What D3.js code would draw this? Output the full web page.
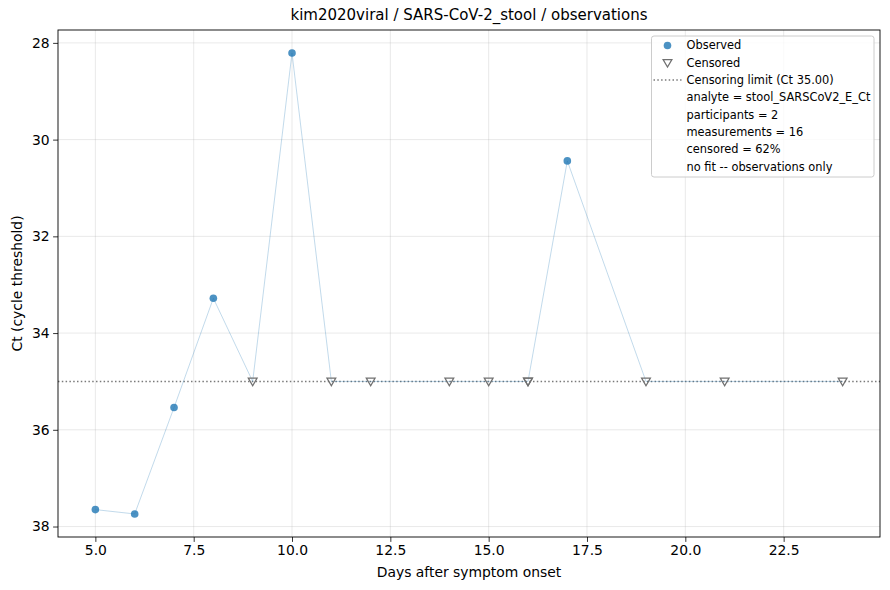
<!DOCTYPE html>
<html>
<head>
<meta charset="utf-8">
<script src="https://cdn.jsdelivr.net/npm/d3@7"></script>
<style>
  body { margin: 0; background: #fff; }
  text { font-family: "DejaVu Sans", sans-serif; }
</style>
</head>
<body>
<div id="chart"></div>
<script>
// data
var days     = [5, 6, 7, 8, 9, 10, 11, 12, 14, 15, 16, 16, 17, 19, 21, 24];
var ctValues = [37.65, 37.74, 35.54, 33.28, 35, 28.21, 35, 35, 35, 35, 35, 35, 30.44, 35, 35, 35];
var censored = [false, false, false, false, true, false, true, true, true, true, true, true, false, true, true, true];
var xTicks = [5, 7.5, 10, 12.5, 15, 17.5, 20, 22.5];
var yTicks = [28, 30, 32, 34, 36, 38];
var censorLimit = 35;
var legendItems = ["Observed", "Censored", "Censoring limit (Ct 35.00)",
  "analyte = stool_SARSCoV2_E_Ct", "participants = 2", "measurements = 16",
  "censored = 62%", "no fit -- observations only"];

var points = days.map(function(d, i) {
  return {day: d, ct: ctValues[i], cens: censored[i]};
});

// set the dimensions and margins of the graph
var margin = {top: 30, right: 10, bottom: 53, left: 58},
    W = 890, H = 590,
    width = W - margin.left - margin.right,
    height = H - margin.top - margin.bottom;

var svg = d3.select("#chart")
  .append("svg")
    .attr("width", W)
    .attr("height", H)
  .append("g")
    .attr("transform", "translate(" + margin.left + "," + margin.top + ")");

// matplotlib style 5% padding
var xExt = d3.extent(days), yExt = d3.extent(ctValues);
var xPad = (xExt[1] - xExt[0]) * 0.05, yPad = (yExt[1] - yExt[0]) * 0.05;

var x = d3.scaleLinear()
    .domain([xExt[0] - xPad, xExt[1] + xPad])
    .range([0, width]);

// inverted: low Ct at top
var y = d3.scaleLinear()
    .domain([yExt[0] - yPad, yExt[1] + yPad])
    .range([0, height]);

// grid
svg.append("g").selectAll("line").data(xTicks).enter().append("line")
    .attr("x1", function(d) { return x(d); }).attr("x2", function(d) { return x(d); })
    .attr("y1", 0).attr("y2", height)
    .style("stroke", "#b0b0b0").style("stroke-opacity", 0.35).style("stroke-width", 0.8);
svg.append("g").selectAll("line").data(yTicks).enter().append("line")
    .attr("y1", function(d) { return y(d); }).attr("y2", function(d) { return y(d); })
    .attr("x1", 0).attr("x2", width)
    .style("stroke", "#b0b0b0").style("stroke-opacity", 0.35).style("stroke-width", 0.8);

// censoring limit
svg.append("line")
    .attr("x1", 0).attr("x2", width)
    .attr("y1", y(censorLimit)).attr("y2", y(censorLimit))
    .style("stroke", "#7a7a7a").style("stroke-width", 1.5)
    .style("stroke-dasharray", "1.5,2.3");

// connecting line
var line = d3.line()
    .x(function(d) { return x(d.day); })
    .y(function(d) { return y(d.ct); });
svg.append("path")
    .datum(points)
    .attr("d", line)
    .style("fill", "none")
    .style("stroke", "#1f77b4").style("stroke-opacity", 0.3).style("stroke-width", 0.9);

// censored markers
var tri = "M-4.4,-3.3L4.4,-3.3L0,4.3Z";
svg.selectAll(".cens")
  .data(points.filter(function(d) { return d.cens; }))
  .enter()
  .append("path")
    .attr("class", "cens")
    .attr("d", tri)
    .attr("transform", function(d) { return "translate(" + x(d.day) + "," + y(d.ct) + ")"; })
    .style("fill", "none")
    .style("stroke", "#707070").style("stroke-width", 1.25);

// observed dots
svg.selectAll(".dot")
  .data(points.filter(function(d) { return !d.cens; }))
  .enter()
  .append("circle")
    .attr("class", "dot")
    .attr("cx", function(d) { return x(d.day); })
    .attr("cy", function(d) { return y(d.ct); })
    .attr("r", 3.8)
    .style("fill", "#1f77b4").style("fill-opacity", 0.8);

// axes
var xAxis = svg.append("g")
    .attr("transform", "translate(0," + height + ")")
    .call(d3.axisBottom(x).tickValues(xTicks).tickFormat(d3.format(".1f")).tickSizeOuter(0).tickSize(4.9).tickPadding(3.5));
var yAxis = svg.append("g")
    .call(d3.axisLeft(y).tickValues(yTicks).tickFormat(d3.format("d")).tickSizeOuter(0).tickSize(4.9).tickPadding(3.5));
[xAxis, yAxis].forEach(function(a) {
  a.select(".domain").remove();
  a.selectAll("line").style("stroke", "#000").style("stroke-width", 0.8);
  a.selectAll("text").style("font-size", "13.9px").style("fill", "#000")
    .style("font-family", "DejaVu Sans");
});

// frame
svg.append("rect")
    .attr("width", width).attr("height", height)
    .style("fill", "none").style("stroke", "#000").style("stroke-width", 0.9);

// labels
svg.append("text")
    .attr("x", width / 2).attr("y", -10)
    .attr("text-anchor", "middle")
    .style("font-size", "15px")
    .text("kim2020viral / SARS-CoV-2_stool / observations");

svg.append("text")
    .attr("x", width / 2).attr("y", height + 40)
    .attr("text-anchor", "middle")
    .style("font-size", "13.9px")
    .text("Days after symptom onset");

svg.append("text")
    .attr("transform", "rotate(-90)")
    .attr("x", -height / 2).attr("y", -36)
    .attr("text-anchor", "middle")
    .style("font-size", "13.9px")
    .text("Ct (cycle threshold)");

// legend
var lg = svg.append("g").attr("transform", "translate(" + (width - 228.5) + ",6)");
lg.append("rect")
    .attr("width", 222.5).attr("height", 141).attr("rx", 2.5)
    .style("fill", "#fff").style("fill-opacity", 0.8)
    .style("stroke", "#cccccc").style("stroke-width", 1);
var rowY = function(i) { return 9.5 + i * 17.3; };
lg.append("circle").attr("cx", 16).attr("cy", rowY(0)).attr("r", 3.8)
    .style("fill", "#1f77b4").style("fill-opacity", 0.8);
lg.append("path").attr("d", tri)
    .attr("transform", "translate(16," + rowY(1) + ")")
    .style("fill", "none").style("stroke", "#707070").style("stroke-width", 1.25);
lg.append("line").attr("x1", 2).attr("x2", 30).attr("y1", rowY(2)).attr("y2", rowY(2))
    .style("stroke", "#7a7a7a").style("stroke-width", 1.5).style("stroke-dasharray", "1.5,2.3");
lg.selectAll(".lt").data(legendItems).enter().append("text")
    .attr("class", "lt")
    .attr("x", 35)
    .attr("y", function(d, i) { return rowY(i); })
    .attr("dy", "0.35em")
    .style("font-size", "11.4px")
    .text(function(d) { return d; });
</script>
</body>
</html>
